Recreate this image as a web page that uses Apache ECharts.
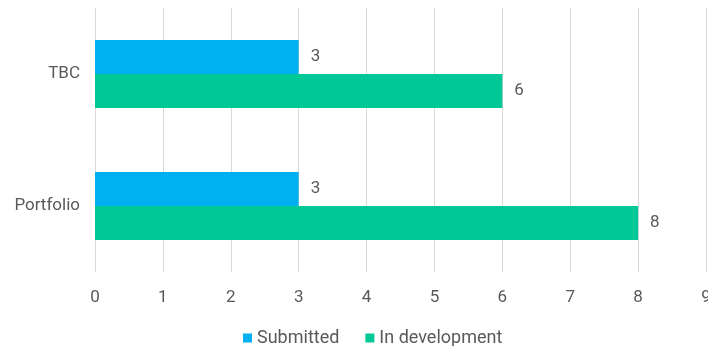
<!DOCTYPE html>
<html><head><meta charset="utf-8">
<script src="https://cdn.jsdelivr.net/npm/echarts@6/dist/echarts.min.js"></script>
<style>html,body{margin:0;padding:0;background:#fff}#c{width:708px;height:346px}</style>
</head><body><div id="c"></div>
<script>
const categories = ['Portfolio', 'TBC'];
const submitted = [3, 3];
const inDevelopment = [8, 6];
const seriesNames = ['Submitted', 'In development'];
const xTicks = [0, 1, 2, 3, 4, 5, 6, 7, 8, 9];

const font = 'Roboto';
const gray = '#595959';
const fs = 17;
const chart = echarts.init(document.getElementById('c'));
chart.setOption({
  animation: false,
  textStyle: { fontFamily: font },
  legend: {
    data: seriesNames,
    top: 324,
    left: 238,
    itemWidth: 9, itemHeight: 9, itemGap: 26,
    icon: 'rect',
    textStyle: { color: gray, fontSize: 18, fontFamily: font }
  },
  grid: { left: 95, right: 2, top: 8, bottom: 74, containLabel: false, outerBoundsMode: 'none' },
  xAxis: {
    type: 'value', min: xTicks[0], max: xTicks[xTicks.length - 1], interval: 1,
    axisLine: { show: false }, axisTick: { show: false },
    splitLine: { lineStyle: { color: '#d9d9d9', width: 1 } },
    axisLabel: { color: gray, fontSize: fs, margin: 17, fontFamily: font }
  },
  yAxis: {
    type: 'category', data: categories,
    axisLine: { show: false }, axisTick: { show: false },
    axisLabel: { color: gray, fontSize: fs, margin: 15, fontFamily: font }
  },
  series: [
    {
      name: seriesNames[0], type: 'bar', data: submitted, barWidth: 34, barGap: '0%',
      itemStyle: { color: '#00B0F0' },
      label: { show: true, position: 'right', distance: 12, color: gray, fontSize: fs, fontFamily: font }
    },
    {
      name: seriesNames[1], type: 'bar', data: inDevelopment, barWidth: 34, barGap: '0%',
      itemStyle: { color: '#00C896' },
      label: { show: true, position: 'right', distance: 12, color: gray, fontSize: fs, fontFamily: font }
    }
  ]
});
</script></body></html>
